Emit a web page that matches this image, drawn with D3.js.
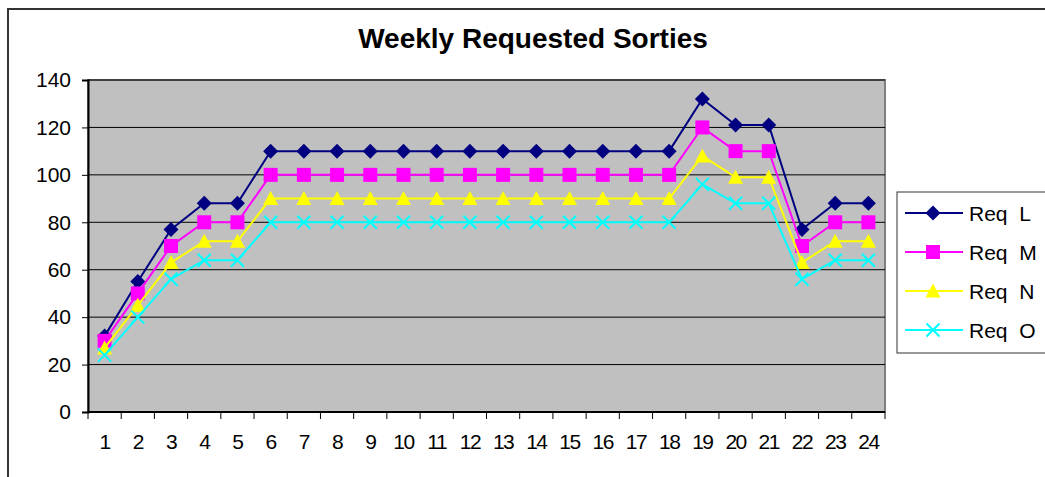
<!DOCTYPE html>
<html>
<head>
<meta charset="utf-8">
<script src="https://cdn.jsdelivr.net/npm/d3@7"></script>
<style>
  body { margin: 0; background: #fff; }
  svg { display: block; font-family: "Liberation Sans", Arial, sans-serif; }
</style>
</head>
<body>
<svg id="chart" width="1045" height="477"></svg>
<script>
// data
var weeks = d3.range(1, 25).map(String);
var reqL = [32, 55, 77, 88, 88, 110, 110, 110, 110, 110, 110, 110, 110, 110, 110, 110, 110, 110, 132, 121, 121, 77, 88, 88];
var reqM = [30, 50, 70, 80, 80, 100, 100, 100, 100, 100, 100, 100, 100, 100, 100, 100, 100, 100, 120, 110, 110, 70, 80, 80];
var reqN = [27, 45, 63, 72, 72, 90, 90, 90, 90, 90, 90, 90, 90, 90, 90, 90, 90, 90, 108, 99, 99, 63, 72, 72];
var reqO = [24, 40, 56, 64, 64, 80, 80, 80, 80, 80, 80, 80, 80, 80, 80, 80, 80, 80, 96, 88, 88, 56, 64, 64];
var seriesNames = ["Req  L", "Req  M", "Req  N", "Req  O"];
var yTicks = [0, 20, 40, 60, 80, 100, 120, 140];

var series = [
  {name: seriesNames[0], values: reqL, color: "#000080", marker: "diamond"},
  {name: seriesNames[1], values: reqM, color: "#FF00FF", marker: "square"},
  {name: seriesNames[2], values: reqN, color: "#FFFF00", marker: "triangle"},
  {name: seriesNames[3], values: reqO, color: "#00FFFF", marker: "x"}
];

var svg = d3.select("#chart");

// outer chart frame (right/bottom edges run off the picture)
svg.append("rect")
  .attr("x", 8).attr("y", 9)
  .attr("width", 1060).attr("height", 500)
  .attr("fill", "#fff")
  .attr("stroke", "#333").attr("stroke-width", 2);

var plot = {left: 88, top: 80, right: 885, bottom: 412};

var x = d3.scaleBand().domain(weeks).range([plot.left, plot.right]);
var y = d3.scaleLinear().domain([0, 140]).range([plot.bottom, plot.top]);

// plot background
svg.append("rect")
  .attr("x", plot.left).attr("y", plot.top)
  .attr("width", plot.right - plot.left).attr("height", plot.bottom - plot.top)
  .attr("fill", "#C0C0C0")
  .attr("stroke", "#808080").attr("stroke-width", 2);

// gridlines
svg.append("g").selectAll("line").data(yTicks.slice(1)).enter()
  .append("line")
  .attr("x1", plot.left).attr("x2", plot.right)
  .attr("y1", function(d){ return y(d); })
  .attr("y2", function(d){ return y(d); })
  .attr("stroke", "#000").attr("stroke-width", 1);

// y axis
var yAxis = svg.append("g")
  .attr("transform", "translate(" + plot.left + ",0)")
  .call(d3.axisLeft(y).tickValues(yTicks).tickSize(6).tickPadding(11));
yAxis.select(".domain").attr("stroke", "#000").attr("stroke-width", 2);
yAxis.selectAll(".tick line").attr("stroke", "#000");
yAxis.selectAll("text")
  .attr("font-size", 21).attr("fill", "#000")
  .attr("font-family", "Liberation Sans, Arial, sans-serif");

// x axis: ticks sit at band boundaries
var xAxis = svg.append("g")
  .attr("transform", "translate(0," + plot.bottom + ")");
xAxis.append("line")
  .attr("x1", plot.left).attr("x2", plot.right)
  .attr("stroke", "#000").attr("stroke-width", 2);
var bounds = weeks.map(function(w){ return x(w); }).concat([x(weeks[weeks.length - 1]) + x.bandwidth()]);
xAxis.selectAll(".tk").data(bounds).enter()
  .append("line")
  .attr("x1", function(d){ return d; }).attr("x2", function(d){ return d; })
  .attr("y1", 0).attr("y2", 7)
  .attr("stroke", "#000").attr("stroke-width", 1);
xAxis.selectAll("text").data(weeks).enter()
  .append("text")
  .attr("x", function(d){ return x(d) + x.bandwidth() / 2; })
  .attr("y", 37)
  .attr("text-anchor", "middle")
  .attr("font-size", 21)
  .attr("letter-spacing", -1.5)
  .text(function(d){ return d; });

// marker drawing
function drawMarker(g, type, color) {
  if (type === "diamond") {
    g.append("path").attr("d", "M0,-7.5L7.5,0L0,7.5L-7.5,0Z").attr("fill", color);
  } else if (type === "square") {
    g.append("rect").attr("x", -7).attr("y", -7).attr("width", 14).attr("height", 14).attr("fill", color);
  } else if (type === "triangle") {
    g.append("path").attr("d", "M0,-7.5L7.5,6.5L-7.5,6.5Z").attr("fill", color);
  } else {
    g.append("path").attr("d", "M-6.5,-6.5L6.5,6.5M-6.5,6.5L6.5,-6.5").attr("stroke", color).attr("stroke-width", 2).attr("fill", "none");
  }
}

var line = d3.line()
  .x(function(d, i){ return x(weeks[i]) + x.bandwidth() / 2; })
  .y(function(d){ return y(d); });

series.forEach(function(s){
  var g = svg.append("g");
  g.append("path")
    .attr("d", line(s.values))
    .attr("fill", "none")
    .attr("stroke", s.color)
    .attr("stroke-width", 2);
  s.values.forEach(function(v, i){
    var m = g.append("g")
      .attr("transform", "translate(" + (x(weeks[i]) + x.bandwidth() / 2) + "," + y(v) + ")");
    drawMarker(m, s.marker, s.color);
  });
});

// title
svg.append("text")
  .attr("x", 533).attr("y", 48)
  .attr("text-anchor", "middle")
  .attr("font-size", 28)
  .attr("font-weight", "bold")
  .text("Weekly Requested Sorties");

// legend
var legend = svg.append("g");
legend.append("rect")
  .attr("x", 897).attr("y", 192)
  .attr("width", 160).attr("height", 161)
  .attr("fill", "#fff")
  .attr("stroke", "#333").attr("stroke-width", 1);

series.forEach(function(s, i){
  var row = legend.append("g").attr("transform", "translate(0," + (213 + i * 39) + ")");
  row.append("line")
    .attr("x1", 905).attr("x2", 963)
    .attr("stroke", s.color).attr("stroke-width", 2);
  drawMarker(row.append("g").attr("transform", "translate(933,0)"), s.marker, s.color);
  row.append("text")
    .attr("x", 969).attr("y", 7.5)
    .attr("font-size", 21)
    .attr("xml:space", "preserve")
    .style("white-space", "pre")
    .text(s.name);
});
</script>
</body>
</html>
